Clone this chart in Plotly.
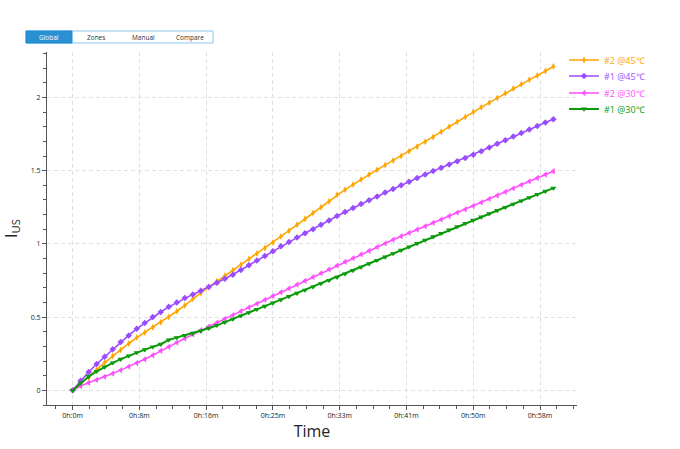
import plotly.graph_objects as go

# ---------------- data ----------------
minutes = list(range(61))
time_s = [m * 60 for m in minutes]

series_names = ["#2 @45℃", "#1 @45℃", "#2 @30℃", "#1 @30℃"]
series_colors = ["#FFA500", "#9A4DFF", "#FF4DFF", "#0A9A0A"]
series_symbols = ["diamond-tall", "diamond", "triangle-left", "triangle-down"]

s2_45 = [0.000, 0.045, 0.090, 0.140, 0.190, 0.235, 0.275, 0.320, 0.360, 0.395,
         0.430, 0.465, 0.500, 0.540, 0.580, 0.625, 0.665, 0.705, 0.745, 0.783,
         0.820, 0.858, 0.896, 0.934, 0.972, 1.010, 1.050, 1.090, 1.130, 1.170,
         1.210, 1.250, 1.290, 1.335, 1.370, 1.405, 1.440, 1.473, 1.506, 1.538,
         1.570, 1.600, 1.632, 1.665, 1.698, 1.730, 1.765, 1.800, 1.834, 1.867,
         1.900, 1.932, 1.964, 1.996, 2.028, 2.060, 2.090, 2.120, 2.150, 2.180,
         2.211]

s1_45 = [0.000, 0.065, 0.125, 0.180, 0.230, 0.280, 0.330, 0.375, 0.420, 0.460,
         0.500, 0.535, 0.570, 0.600, 0.630, 0.655, 0.680, 0.705, 0.735, 0.762,
         0.790, 0.822, 0.854, 0.886, 0.918, 0.950, 0.983, 1.013, 1.043, 1.072,
         1.100, 1.130, 1.160, 1.190, 1.218, 1.245, 1.272, 1.298, 1.324, 1.350,
         1.375, 1.400, 1.425, 1.450, 1.474, 1.497, 1.520, 1.542, 1.564, 1.586,
         1.608, 1.633, 1.658, 1.683, 1.708, 1.733, 1.757, 1.781, 1.805, 1.828,
         1.851]

s2_30 = [0.000, 0.030, 0.052, 0.072, 0.093, 0.115, 0.138, 0.162, 0.187, 0.212,
         0.240, 0.270, 0.298, 0.326, 0.354, 0.382, 0.410, 0.436, 0.462, 0.488,
         0.514, 0.540, 0.566, 0.592, 0.618, 0.644, 0.670, 0.696, 0.722, 0.748,
         0.774, 0.800, 0.826, 0.852, 0.878, 0.903, 0.928, 0.953, 0.978, 1.003,
         1.028, 1.052, 1.075, 1.098, 1.121, 1.144, 1.167, 1.190, 1.213, 1.236,
         1.259, 1.283, 1.307, 1.331, 1.355, 1.379, 1.403, 1.427, 1.450, 1.473,
         1.496]

s1_30 = [0.000, 0.050, 0.095, 0.130, 0.160, 0.188, 0.213, 0.236, 0.258, 0.278,
         0.297, 0.315, 0.345, 0.360, 0.375, 0.390, 0.405, 0.424, 0.444, 0.465,
         0.487, 0.509, 0.531, 0.553, 0.575, 0.597, 0.619, 0.641, 0.663, 0.685,
         0.707, 0.729, 0.751, 0.773, 0.796, 0.819, 0.842, 0.865, 0.888, 0.911,
         0.934, 0.957, 0.980, 1.003, 1.026, 1.049, 1.072, 1.095, 1.118, 1.140,
         1.162, 1.184, 1.206, 1.228, 1.250, 1.272, 1.294, 1.316, 1.338, 1.360,
         1.381]

series_values = [s2_45, s1_45, s2_30, s1_30]

x_tick_vals = [0, 500, 1000, 1500, 2000, 2500, 3000, 3500]
x_tick_text = ["0h:0m", "0h:8m", "0h:16m", "0h:25m", "0h:33m", "0h:41m", "0h:50m", "0h:58m"]
y_tick_vals = [0, 0.5, 1, 1.5, 2]
y_tick_text = ["0", "0.5", "1", "1.5", "2"]

buttons = ["Global", "Zones", "Manual", "Compare"]

# ---------------- figure ----------------
W, H = 680, 449
ML, MR, MT, MB = 47, 103, 52, 44
PW, PH = W - ML - MR, H - MT - MB

def px(x):
    return (x - ML) / PW

def py(y):
    return (H - MB - y) / PH

legend_ids = ["legend", "legend2", "legend3", "legend4"]
legend_rows = [60, 76, 93, 109]

fig = go.Figure()
for name, color, sym, vals, lid in zip(series_names, series_colors, series_symbols,
                                        series_values, legend_ids):
    fig.add_trace(go.Scatter(
        x=time_s, y=vals, mode="lines+markers",
        name=f"<span style='color:{color}'>{name}</span>",
        legend=lid,
        line=dict(color=color, width=1.6 if color != "#0A9A0A" else 2),
        marker=dict(color=color, symbol=sym,
                    size=5.5 if sym.startswith("triangle") else 5, line=dict(width=0)),
    ))

# button bar
shapes = [
    dict(type="rect", xref="paper", yref="paper", x0=px(26), x1=px(213), y0=py(43), y1=py(31),
         line=dict(color="#8cc4ea", width=1), fillcolor="white", layer="above"),
    dict(type="rect", xref="paper", yref="paper", x0=px(26), x1=px(72), y0=py(43), y1=py(31),
         line=dict(color="#1f8ad0", width=1), fillcolor="#2a90d4", layer="above"),
]
btn_centers = [49, 96, 143, 190]
annotations = []
for i, (b, c) in enumerate(zip(buttons, btn_centers)):
    annotations.append(dict(
        text=b, xref="paper", yref="paper", x=px(c), y=py(37.5),
        xanchor="center", yanchor="middle", showarrow=False,
        font=dict(size=6.5, color="white" if i == 0 else "#333333", family="Open Sans"),
    ))

legend_layout = {}
for lid, row in zip(legend_ids, legend_rows):
    legend_layout[lid] = dict(x=px(564), y=py(row), xanchor="left", yanchor="middle",
                              font=dict(size=9, family="Open Sans"),
                              bgcolor="rgba(0,0,0,0)", itemwidth=30)

fig.update_layout(
    width=W, height=H,
    margin=dict(l=ML, r=MR, t=MT, b=MB),
    paper_bgcolor="white", plot_bgcolor="white",
    font=dict(family="Open Sans", color="#222222"),
    showlegend=True,
    shapes=shapes,
    annotations=annotations,
    **legend_layout,
)

fig.update_xaxes(
    range=[-192, 3777],
    tickvals=x_tick_vals, ticktext=x_tick_text,
    tickfont=dict(size=7, color="#222222"),
    ticks="outside", ticklen=4, tickcolor="#555555",
    showline=True, linecolor="#555555", linewidth=1,
    showgrid=True, gridcolor="#e0e0e0", griddash="4px,3px", gridwidth=1,
    zeroline=False,
    minor=dict(dtick=125, tick0=0, ticks="outside", ticklen=3, tickcolor="#555555", showgrid=False),
    title=dict(text="Time", font=dict(size=16, color="#222222"), standoff=0),
)
fig.update_yaxes(
    range=[-0.1, 2.31],
    tickvals=y_tick_vals, ticktext=y_tick_text,
    tickfont=dict(size=7, color="#222222"),
    ticks="outside", ticklen=4, tickcolor="#555555",
    showline=True, linecolor="#555555", linewidth=1,
    showgrid=True, gridcolor="#e0e0e0", griddash="4px,3px", gridwidth=1,
    zeroline=False,
    minor=dict(dtick=0.1, tick0=0, ticks="outside", ticklen=3, tickcolor="#555555", showgrid=False),
    title=dict(text="I<sub>US</sub>", font=dict(size=16, color="#222222"), standoff=9),
)

fig.write_html("out.html")
